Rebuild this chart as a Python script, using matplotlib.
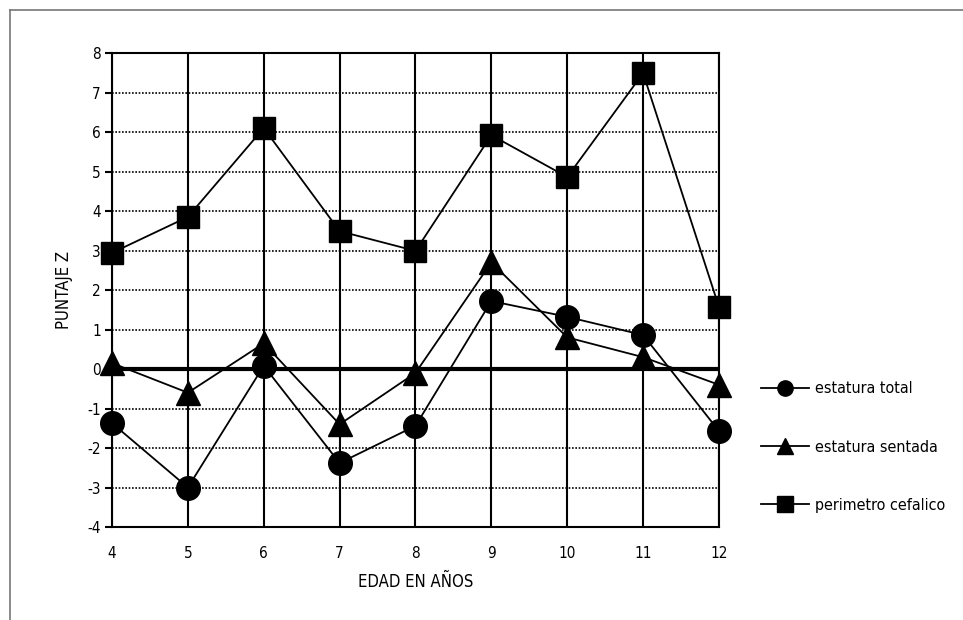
import numpy as np
import matplotlib.pyplot as plt
from matplotlib.lines import Line2D

edad = [4, 5, 6, 7, 8, 9, 10, 11, 12]
estatura_total = [-1.37, -3.0, 0.08, -2.38, -1.44, 1.72, 1.32, 0.86, -1.57]
estatura_sentada = [0.15, -0.6, 0.65, -1.4, -0.1, 2.7, 0.8, 0.3, -0.4]
perimetro_cefalico = [2.94, 3.85, 6.1, 3.49, 2.99, 5.92, 4.86, 7.49, 1.57]
yticks = list(range(-4, 9))

plt.rcParams['font.family'] = ['DejaVu Sans']
plt.rcParams['font.stretch'] = 'condensed'
plt.rcParams['axes.unicode_minus'] = False

fig = plt.figure(figsize=(9.63, 6.2), dpi=100)
ax = fig.add_axes([0.1163, 0.15, 0.6303, 0.7645])

# outer frame (only top and left edges visible)
fig.add_artist(Line2D([0.0104, 1.0], [0.984, 0.984], color='#777777', lw=1.2, transform=fig.transFigure))
fig.add_artist(Line2D([0.0104, 0.0104], [0.0, 0.984], color='#777777', lw=1.2, transform=fig.transFigure))

for y in yticks:
    if y != 0:
        ax.axhline(y, color='black', lw=1.2, ls=(0, (1, 1)), zorder=1)
for x in edad:
    ax.axvline(x, color='black', lw=1.5, zorder=1)
ax.axhline(0, color='black', lw=3, zorder=2)

ax.plot(edad, estatura_total, color='black', lw=1.3, marker='o', ms=17, label='estatura total', zorder=3, clip_on=False)
ax.plot(edad, estatura_sentada, color='black', lw=1.3, marker='^', ms=17, label='estatura sentada', zorder=3, clip_on=False)
ax.plot(edad, perimetro_cefalico, color='black', lw=1.3, marker='s', ms=16, label='perimetro cefalico', zorder=3, clip_on=False)

ax.set_xlim(4, 12)
ax.set_ylim(-4, 8)
ax.set_xticks(edad)
ax.set_yticks(yticks)
ax.tick_params(axis='x', length=0, pad=14, labelsize=11)
ax.tick_params(axis='y', length=5, width=1.5, labelsize=11, pad=3)
for s in ax.spines.values():
    s.set_linewidth(1.5)

ax.set_xlabel('EDAD EN AÑOS', fontsize=12, labelpad=8)
ax.set_ylabel('PUNTAJE Z', fontsize=12, labelpad=10)

handles, labels = ax.get_legend_handles_labels()
leg_handles = [Line2D([0], [0], color='black', lw=1.3, marker=h.get_marker(), ms=11) for h in handles]
fig.legend(leg_handles, labels, loc='center left', bbox_to_anchor=(0.775, 0.279),
           frameon=False, fontsize=11.5, handlelength=3, labelspacing=2.7, handletextpad=0.4)

plt.savefig('out.png', dpi=100)
